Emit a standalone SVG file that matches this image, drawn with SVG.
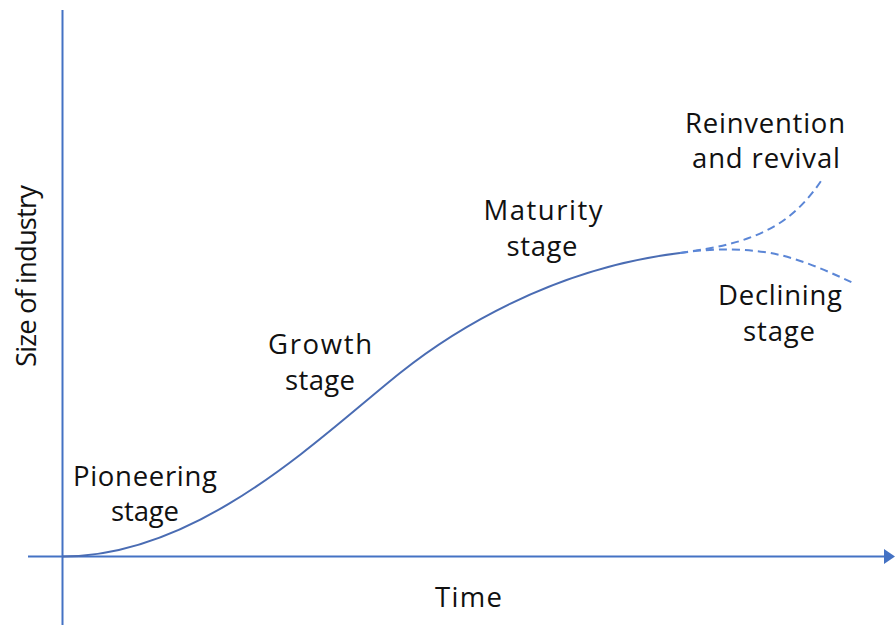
<svg xmlns="http://www.w3.org/2000/svg" width="895" height="629" viewBox="0 0 895 629">
  <style>
    .axis { stroke: #4472C4; stroke-width: 2; fill: none; }
    .curve { stroke: #4A6CB3; stroke-width: 2; fill: none; }
    .dash { stroke: #5B86D6; stroke-width: 2; fill: none; stroke-dasharray: 8 5; }
    .lbl { font-family: "Open Sans", "Noto Sans", sans-serif; font-size: 27.5px; fill: #111111; text-anchor: middle; }
  </style>
  <rect width="895" height="629" fill="#ffffff"/>
  <g id="axes">
    <line class="axis" x1="62.5" y1="10" x2="62.5" y2="625"/>
    <line class="axis" x1="28" y1="556.5" x2="886" y2="556.5"/>
    <polygon points="884,549 895,556.5 884,564" fill="#4472C4"/>
  </g>
  <g id="connectors">
    <path class="curve" d="M62.5,556.5 C200,556.5 320,437 400,373 C450,333 550,268.6 680,253"/>
    <path class="dash" d="M680,253 C715,248 745,243 775,226 C795,214 810,198 823,178"/>
    <path class="dash" d="M680,253 C715,248 750,248 780,255 C805,261 830,272 853,283"/>
  </g>
  <g id="pioneering">
    <text class="lbl" x="145" y="486" textLength="144" lengthAdjust="spacing">Pioneering</text>
    <text class="lbl" x="145" y="521" textLength="68" lengthAdjust="spacing">stage</text>
  </g>
  <g id="growth">
    <text class="lbl" x="320" y="354" textLength="104" lengthAdjust="spacing">Growth</text>
    <text class="lbl" x="320" y="390" textLength="70" lengthAdjust="spacing">stage</text>
  </g>
  <g id="maturity">
    <text class="lbl" x="543" y="220" textLength="119" lengthAdjust="spacing">Maturity</text>
    <text class="lbl" x="542" y="256" textLength="71" lengthAdjust="spacing">stage</text>
  </g>
  <g id="reinvention">
    <text class="lbl" x="765" y="133" textLength="160" lengthAdjust="spacing">Reinvention</text>
    <text class="lbl" x="766" y="168" textLength="148" lengthAdjust="spacing">and revival</text>
  </g>
  <g id="declining">
    <text class="lbl" x="780" y="305" textLength="124" lengthAdjust="spacing">Declining</text>
    <text class="lbl" x="779" y="341" textLength="72" lengthAdjust="spacing">stage</text>
  </g>
  <g id="time">
    <text class="lbl" x="468.5" y="607" textLength="67" lengthAdjust="spacing">Time</text>
  </g>
  <g id="size-of-industry">
    <text class="lbl" transform="translate(36,276) rotate(-90)" x="0" y="0" textLength="182" lengthAdjust="spacing">Size of industry</text>
  </g>
</svg>
